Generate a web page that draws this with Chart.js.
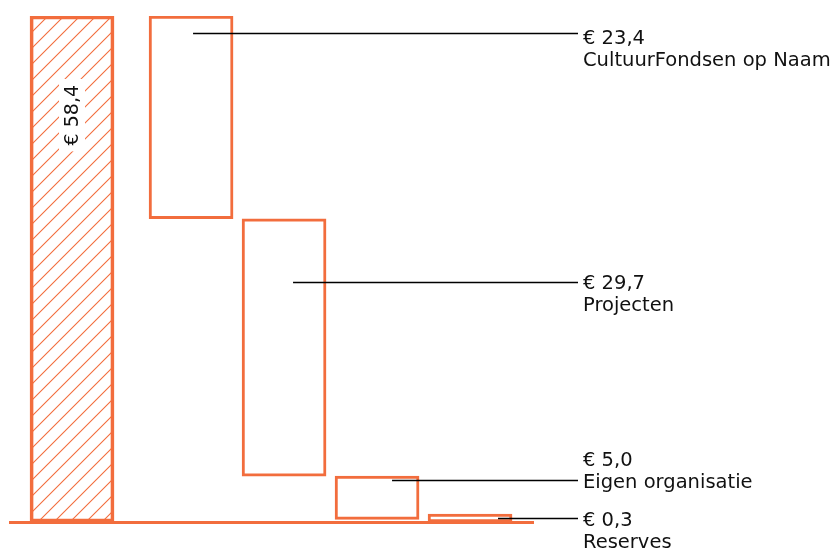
<!DOCTYPE html>
<html>
<head>
<meta charset="utf-8">
<script src="https://cdn.jsdelivr.net/npm/chart.js@4/dist/chart.umd.min.js"></script>
<style>
  html, body { margin: 0; padding: 0; background: #fff; }
  #wrap { width: 840px; height: 554px; }
</style>
</head>
<body>
<div id="wrap"><canvas id="waterfall"></canvas></div>
<script>
// Gegevens (miljoen euro)
const totaalLabel = 'Totaal';
const totaal = 58.4;
const onderdelen = ['CultuurFondsen op Naam', 'Projecten', 'Eigen organisatie', 'Reserves'];
const bedragen = [23.4, 29.7, 5.0, 0.3];

const oranje = '#f26d3d';
const FONT = '"DejaVu Sans", "Noto Sans", sans-serif';

const fmt = v => '€ ' + v.toFixed(1).replace('.', ',');

// opbouw waterval: eerst het totaal, dan de onderdelen aflopend
const labels = [totaalLabel].concat(onderdelen);
const slots = labels.map((l, i) => i === 0 ? 0 : i + 0.28);   // iets meer ruimte na het totaal
let rest = totaal;
const balken = [{ x: slots[0], y: [0, totaal] }];
bedragen.forEach((b, i) => {
  const boven = rest;
  rest = Math.max(0, +(rest - b).toFixed(2));
  balken.push({ x: slots[i + 1], y: [rest, boven] });
});

// arcering voor de totaalbalk
function maakArcering() {
  const c = document.createElement('canvas');
  c.width = 16; c.height = 16;
  const g = c.getContext('2d');
  g.strokeStyle = oranje;
  g.lineWidth = 1.1;
  g.beginPath();
  g.moveTo(0, 16); g.lineTo(16, 0);
  g.moveTo(-2, 2); g.lineTo(2, -2);
  g.moveTo(14, 18); g.lineTo(18, 14);
  g.stroke();
  return g.createPattern(c, 'repeat');
}

const ctx = document.getElementById('waterfall').getContext('2d');
const arcering = maakArcering();

// layout van de toelichtingen rechts
const lijnFractie = [0.085, 0.245, 0.1, 0.55];   // hoogte van de lijn binnen de balk
const lijnStart = [2, 9, 15, 28];                // vanaf het midden van de balk
const tekstVerschuiving = [5, 1, -20, 2];        // bedrag t.o.v. lijn

const toelichting = {
  id: 'toelichting',
  afterDatasetsDraw(chart) {
    const c = chart.ctx;
    const meta = chart.getDatasetMeta(0);

    // totaal, gedraaid, met witte achtergrond
    c.save();
    const t = meta.data[0];
    const ty = t.y + (t.base - t.y) * 0.196;
    c.translate(t.x, ty);
    c.rotate(-Math.PI / 2);
    c.font = '19px ' + FONT;
    c.textAlign = 'center';
    c.textBaseline = 'middle';
    const tekst = fmt(totaal);
    const w = c.measureText(tekst).width;
    c.fillStyle = '#fff';
    c.fillRect(-w / 2 - 6, -13, w + 12, 26);
    c.fillStyle = '#111';
    c.fillText(tekst, 0, 1);
    c.restore();

    c.save();
    const eindX = 578;
    onderdelen.forEach((naam, i) => {
      const bar = meta.data[i + 1];
      const top = Math.min(bar.y, bar.base);
      const hoogte = Math.abs(bar.base - bar.y);
      const ly = Math.round(top + hoogte * lijnFractie[i]) + 0.5;
      c.strokeStyle = '#000';
      c.lineWidth = 1.5;
      c.beginPath();
      c.moveTo(bar.x + lijnStart[i], ly);
      c.lineTo(eindX, ly);
      c.stroke();

      c.fillStyle = '#111';
      c.font = '19.5px ' + FONT;
      c.textAlign = 'left';
      c.textBaseline = 'middle';
      const vy = ly + tekstVerschuiving[i];
      c.fillText(fmt(bedragen[i]), 583, vy);
      c.fillText(naam, 583, vy + 22);
    });
    c.restore();
  }
};

new Chart(ctx, {
  type: 'bar',
  data: {
    labels: labels,
    datasets: [{
      data: balken,
      backgroundColor: c => c.dataIndex === 0 ? arcering : '#ffffff',
      borderColor: oranje,
      borderWidth: 3,
      borderSkipped: false,
      barThickness: 84,
      minBarLength: 8
    }]
  },
  options: {
    responsive: true,
    maintainAspectRatio: false,
    animation: false,
    layout: { padding: { left: 10, right: 307, top: 16, bottom: 32 } },
    plugins: { legend: { display: false }, tooltip: { enabled: false } },
    scales: {
      x: {
        type: 'linear',
        offset: false,
        min: -0.667,
        max: 4.957,
        grid: { display: false, drawTicks: false },
        ticks: { display: false },
        border: { display: true, color: oranje, width: 3 }
      },
      y: {
        min: 0,
        max: totaal,
        display: false
      }
    }
  },
  plugins: [toelichting]
});
</script>
</body>
</html>
